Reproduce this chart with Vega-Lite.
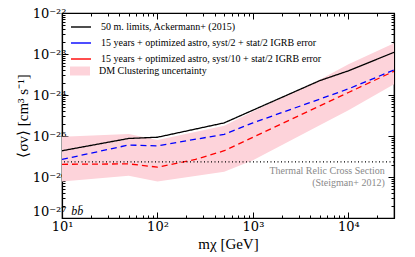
{
  "$schema": "https://vega.github.io/schema/vega-lite/v6.json",
  "width": 332,
  "height": 205,
  "autosize": {"type": "none"},
  "padding": {"left": 62, "top": 13, "right": 21, "bottom": 39},
  "config": {
    "view": {"stroke": "black", "strokeWidth": 1.2},
    "font": "Liberation Serif",
    "axis": {"domainColor": "black", "domainWidth": 1.2, "tickColor": "black", "labelColor": "black", "titleColor": "black", "labelFont": "DejaVu Serif", "titleFont": "Liberation Serif", "grid": false, "titleFontWeight": "normal", "labelOverlap": false, "labelFlush": false},
    "legend": {"labelFont": "Liberation Serif", "labelFontSize": 10, "labelColor": "black", "labelLimit": 400}
  },
  "datasets": {
    "lines": [
      {"series": "50 m. limits, Ackermann+ (2015)", "mass": 10, "sv": 4.37e-26},
      {"series": "50 m. limits, Ackermann+ (2015)", "mass": 50, "sv": 8.71e-26},
      {"series": "50 m. limits, Ackermann+ (2015)", "mass": 100, "sv": 9.33e-26},
      {"series": "50 m. limits, Ackermann+ (2015)", "mass": 500, "sv": 2.09e-25},
      {"series": "50 m. limits, Ackermann+ (2015)", "mass": 1000, "sv": 4.27e-25},
      {"series": "50 m. limits, Ackermann+ (2015)", "mass": 5000, "sv": 2.24e-24},
      {"series": "50 m. limits, Ackermann+ (2015)", "mass": 10000, "sv": 3.89e-24},
      {"series": "50 m. limits, Ackermann+ (2015)", "mass": 30000, "sv": 1.10e-23},
      {"series": "15 years + optimized astro, syst/2 + stat/2 IGRB error", "mass": 10, "sv": 2.69e-26},
      {"series": "15 years + optimized astro, syst/2 + stat/2 IGRB error", "mass": 50, "sv": 6.03e-26},
      {"series": "15 years + optimized astro, syst/2 + stat/2 IGRB error", "mass": 100, "sv": 5.75e-26},
      {"series": "15 years + optimized astro, syst/2 + stat/2 IGRB error", "mass": 500, "sv": 1.10e-25},
      {"series": "15 years + optimized astro, syst/2 + stat/2 IGRB error", "mass": 1000, "sv": 2.09e-25},
      {"series": "15 years + optimized astro, syst/2 + stat/2 IGRB error", "mass": 10000, "sv": 1.41e-24},
      {"series": "15 years + optimized astro, syst/2 + stat/2 IGRB error", "mass": 30000, "sv": 4.07e-24},
      {"series": "15 years + optimized astro, syst/10 + stat/2 IGRB error", "mass": 10, "sv": 2.04e-26},
      {"series": "15 years + optimized astro, syst/10 + stat/2 IGRB error", "mass": 50, "sv": 2.09e-26},
      {"series": "15 years + optimized astro, syst/10 + stat/2 IGRB error", "mass": 100, "sv": 1.74e-26},
      {"series": "15 years + optimized astro, syst/10 + stat/2 IGRB error", "mass": 250, "sv": 2.69e-26},
      {"series": "15 years + optimized astro, syst/10 + stat/2 IGRB error", "mass": 500, "sv": 4.37e-26},
      {"series": "15 years + optimized astro, syst/10 + stat/2 IGRB error", "mass": 1000, "sv": 9.33e-26},
      {"series": "15 years + optimized astro, syst/10 + stat/2 IGRB error", "mass": 10000, "sv": 1.15e-24},
      {"series": "15 years + optimized astro, syst/10 + stat/2 IGRB error", "mass": 30000, "sv": 3.80e-24}
    ],
    "band": [
      {"mass": 10, "lo": 7.76e-27, "hi": 9.55e-26},
      {"mass": 50, "lo": 1.07e-26, "hi": 1.12e-25},
      {"mass": 100, "lo": 7.76e-27, "hi": 7.94e-26},
      {"mass": 500, "lo": 1.35e-26, "hi": 1.78e-25},
      {"mass": 1000, "lo": 2.57e-26, "hi": 3.98e-25},
      {"mass": 5000, "lo": 1.82e-25, "hi": 2.34e-24},
      {"mass": 10000, "lo": 4.27e-25, "hi": 5.62e-24},
      {"mass": 30000, "lo": 1.82e-24, "hi": 1.82e-23}
    ],
    "notes": [
      {"mass": 24000, "sv": 1.4e-26, "text": "Thermal Relic Cross Section"},
      {"mass": 24000, "sv": 7.2e-27, "text": "(Steigman+ 2012)"}
    ],
    "channel": [
      {"mass": 12.5, "sv": 1.5e-27, "text": "bb̄"}
    ]
  },
  "layer": [
    {
      "data": {"name": "band"},
      "mark": {"type": "area", "clip": true},
      "encoding": {
        "x": {"field": "mass", "type": "quantitative",
          "scale": {"type": "log", "domain": [10, 30000], "nice": false},
          "axis": {"orient": "bottom",
            "values": [10,20,30,40,50,60,70,80,90,100,200,300,400,500,600,700,800,900,1000,2000,3000,4000,5000,6000,7000,8000,9000,10000,20000,30000],
            "tickSize": {"condition": {"test": "abs(log(datum.value)/LN10 - round(log(datum.value)/LN10)) < 0.001", "value": -6}, "value": -3},
            "labelExpr": "abs(log(datum.value)/LN10 - round(log(datum.value)/LN10)) < 0.001 ? '10' + ['⁰','¹','²','³','⁴','⁵'][round(log(datum.value)/LN10)] : ''",
            "labelFontSize": 13, "labelPadding": 8,
            "title": "mχ [GeV]", "titleFontSize": 15, "titlePadding": 0}},
        "y": {"field": "lo", "type": "quantitative",
          "scale": {"type": "log", "domain": [1e-27, 1e-22], "nice": false},
          "axis": {"orient": "left",
            "values": [1e-27,2e-27,3e-27,4e-27,5e-27,6e-27,7e-27,8e-27,9e-27,1e-26,2e-26,3e-26,4e-26,5e-26,6e-26,7e-26,8e-26,9e-26,1e-25,2e-25,3e-25,4e-25,5e-25,6e-25,7e-25,8e-25,9e-25,1e-24,2e-24,3e-24,4e-24,5e-24,6e-24,7e-24,8e-24,9e-24,1e-23,2e-23,3e-23,4e-23,5e-23,6e-23,7e-23,8e-23,9e-23,1e-22],
            "tickSize": {"condition": {"test": "abs(log(datum.value)/LN10 - round(log(datum.value)/LN10)) < 0.001", "value": -6}, "value": -3},
            "labelExpr": "abs(log(datum.value)/LN10 - round(log(datum.value)/LN10)) < 0.001 ? '10⁻²' + ['⁰','¹','²','³','⁴','⁵','⁶','⁷','⁸','⁹'][-round(log(datum.value)/LN10) - 20] : ''",
            "labelBaseline": {"condition": {"test": "datum.value < 1.5e-27", "value": "bottom"}, "value": "middle"},
            "labelFontSize": 13, "labelPadding": 2,
            "title": "⟨σv⟩ [cm³ s⁻¹]", "titleFontSize": 15, "titlePadding": 2}},
        "y2": {"field": "hi"},
        "fill": {"datum": "DM Clustering uncertainty", "type": "nominal",
          "scale": {"range": ["#fdd3da"]},
          "legend": {"orient": "none", "legendX": 8, "legendY": 48, "title": null, "symbolType": "M-1,-0.45H1V0.45H-1Z", "symbolSize": 400, "symbolStrokeWidth": 0, "symbolOpacity": 1, "labelOffset": 9, "padding": 0, "labelFontSize": 10}}
      }
    },
    {
      "data": {"name": "lines"},
      "mark": {"type": "line", "strokeWidth": 1.3, "clip": true},
      "encoding": {
        "x": {"field": "mass", "type": "quantitative",
          "scale": {"type": "log", "domain": [10, 30000], "nice": false},
          "axis": {"orient": "top",
            "values": [10,20,30,40,50,60,70,80,90,100,200,300,400,500,600,700,800,900,1000,2000,3000,4000,5000,6000,7000,8000,9000,10000,20000,30000],
            "tickSize": {"condition": {"test": "abs(log(datum.value)/LN10 - round(log(datum.value)/LN10)) < 0.001", "value": -6}, "value": -3},
            "labels": false, "title": null}},
        "y": {"field": "sv", "type": "quantitative",
          "scale": {"type": "log", "domain": [1e-27, 1e-22], "nice": false},
          "axis": {"orient": "right",
            "values": [1e-27,2e-27,3e-27,4e-27,5e-27,6e-27,7e-27,8e-27,9e-27,1e-26,2e-26,3e-26,4e-26,5e-26,6e-26,7e-26,8e-26,9e-26,1e-25,2e-25,3e-25,4e-25,5e-25,6e-25,7e-25,8e-25,9e-25,1e-24,2e-24,3e-24,4e-24,5e-24,6e-24,7e-24,8e-24,9e-24,1e-23,2e-23,3e-23,4e-23,5e-23,6e-23,7e-23,8e-23,9e-23,1e-22],
            "tickSize": {"condition": {"test": "abs(log(datum.value)/LN10 - round(log(datum.value)/LN10)) < 0.001", "value": -6}, "value": -3},
            "labels": false, "title": null}},
        "stroke": {"field": "series", "type": "nominal",
          "scale": {"domain": ["50 m. limits, Ackermann+ (2015)", "15 years + optimized astro, syst/2 + stat/2 IGRB error", "15 years + optimized astro, syst/10 + stat/2 IGRB error"], "range": ["black", "blue", "red"]},
          "legend": {"orient": "none", "legendX": 8, "legendY": 3, "title": null, "symbolType": "stroke", "symbolSize": 400, "symbolStrokeWidth": 1.4, "rowPadding": -5, "labelOffset": 9, "padding": 0, "labelFontSize": 10, "labelLimit": 400}},
        "strokeDash": {"field": "series", "type": "nominal",
          "scale": {"domain": ["50 m. limits, Ackermann+ (2015)", "15 years + optimized astro, syst/2 + stat/2 IGRB error", "15 years + optimized astro, syst/10 + stat/2 IGRB error"], "range": [[1, 0], [6, 4], [6, 4]]},
          "legend": null}
      }
    },
    {
      "data": {"values": [{"sv": 2.35e-26}]},
      "mark": {"type": "rule", "color": "black", "strokeWidth": 1.2, "strokeDash": [1, 2.5]},
      "encoding": {
        "y": {"field": "sv", "type": "quantitative", "scale": {"type": "log", "domain": [1e-27, 1e-22], "nice": false}, "axis": null}
      }
    },
    {
      "data": {"name": "notes"},
      "mark": {"type": "text", "align": "right", "baseline": "middle", "fontSize": 10, "color": "#8a8a8a", "font": "Liberation Serif"},
      "encoding": {
        "x": {"field": "mass", "type": "quantitative", "scale": {"type": "log", "domain": [10, 30000], "nice": false}, "axis": null},
        "y": {"field": "sv", "type": "quantitative", "scale": {"type": "log", "domain": [1e-27, 1e-22], "nice": false}, "axis": null},
        "text": {"field": "text"}
      }
    },
    {
      "data": {"name": "channel"},
      "mark": {"type": "text", "align": "left", "baseline": "middle", "fontSize": 12, "fontStyle": "italic", "color": "black", "font": "Liberation Serif"},
      "encoding": {
        "x": {"field": "mass", "type": "quantitative", "scale": {"type": "log", "domain": [10, 30000], "nice": false}, "axis": null},
        "y": {"field": "sv", "type": "quantitative", "scale": {"type": "log", "domain": [1e-27, 1e-22], "nice": false}, "axis": null},
        "text": {"field": "text"}
      }
    }
  ],
  "resolve": {"axis": {"x": "independent", "y": "independent"}, "legend": {"stroke": "independent", "fill": "independent"}}
}
